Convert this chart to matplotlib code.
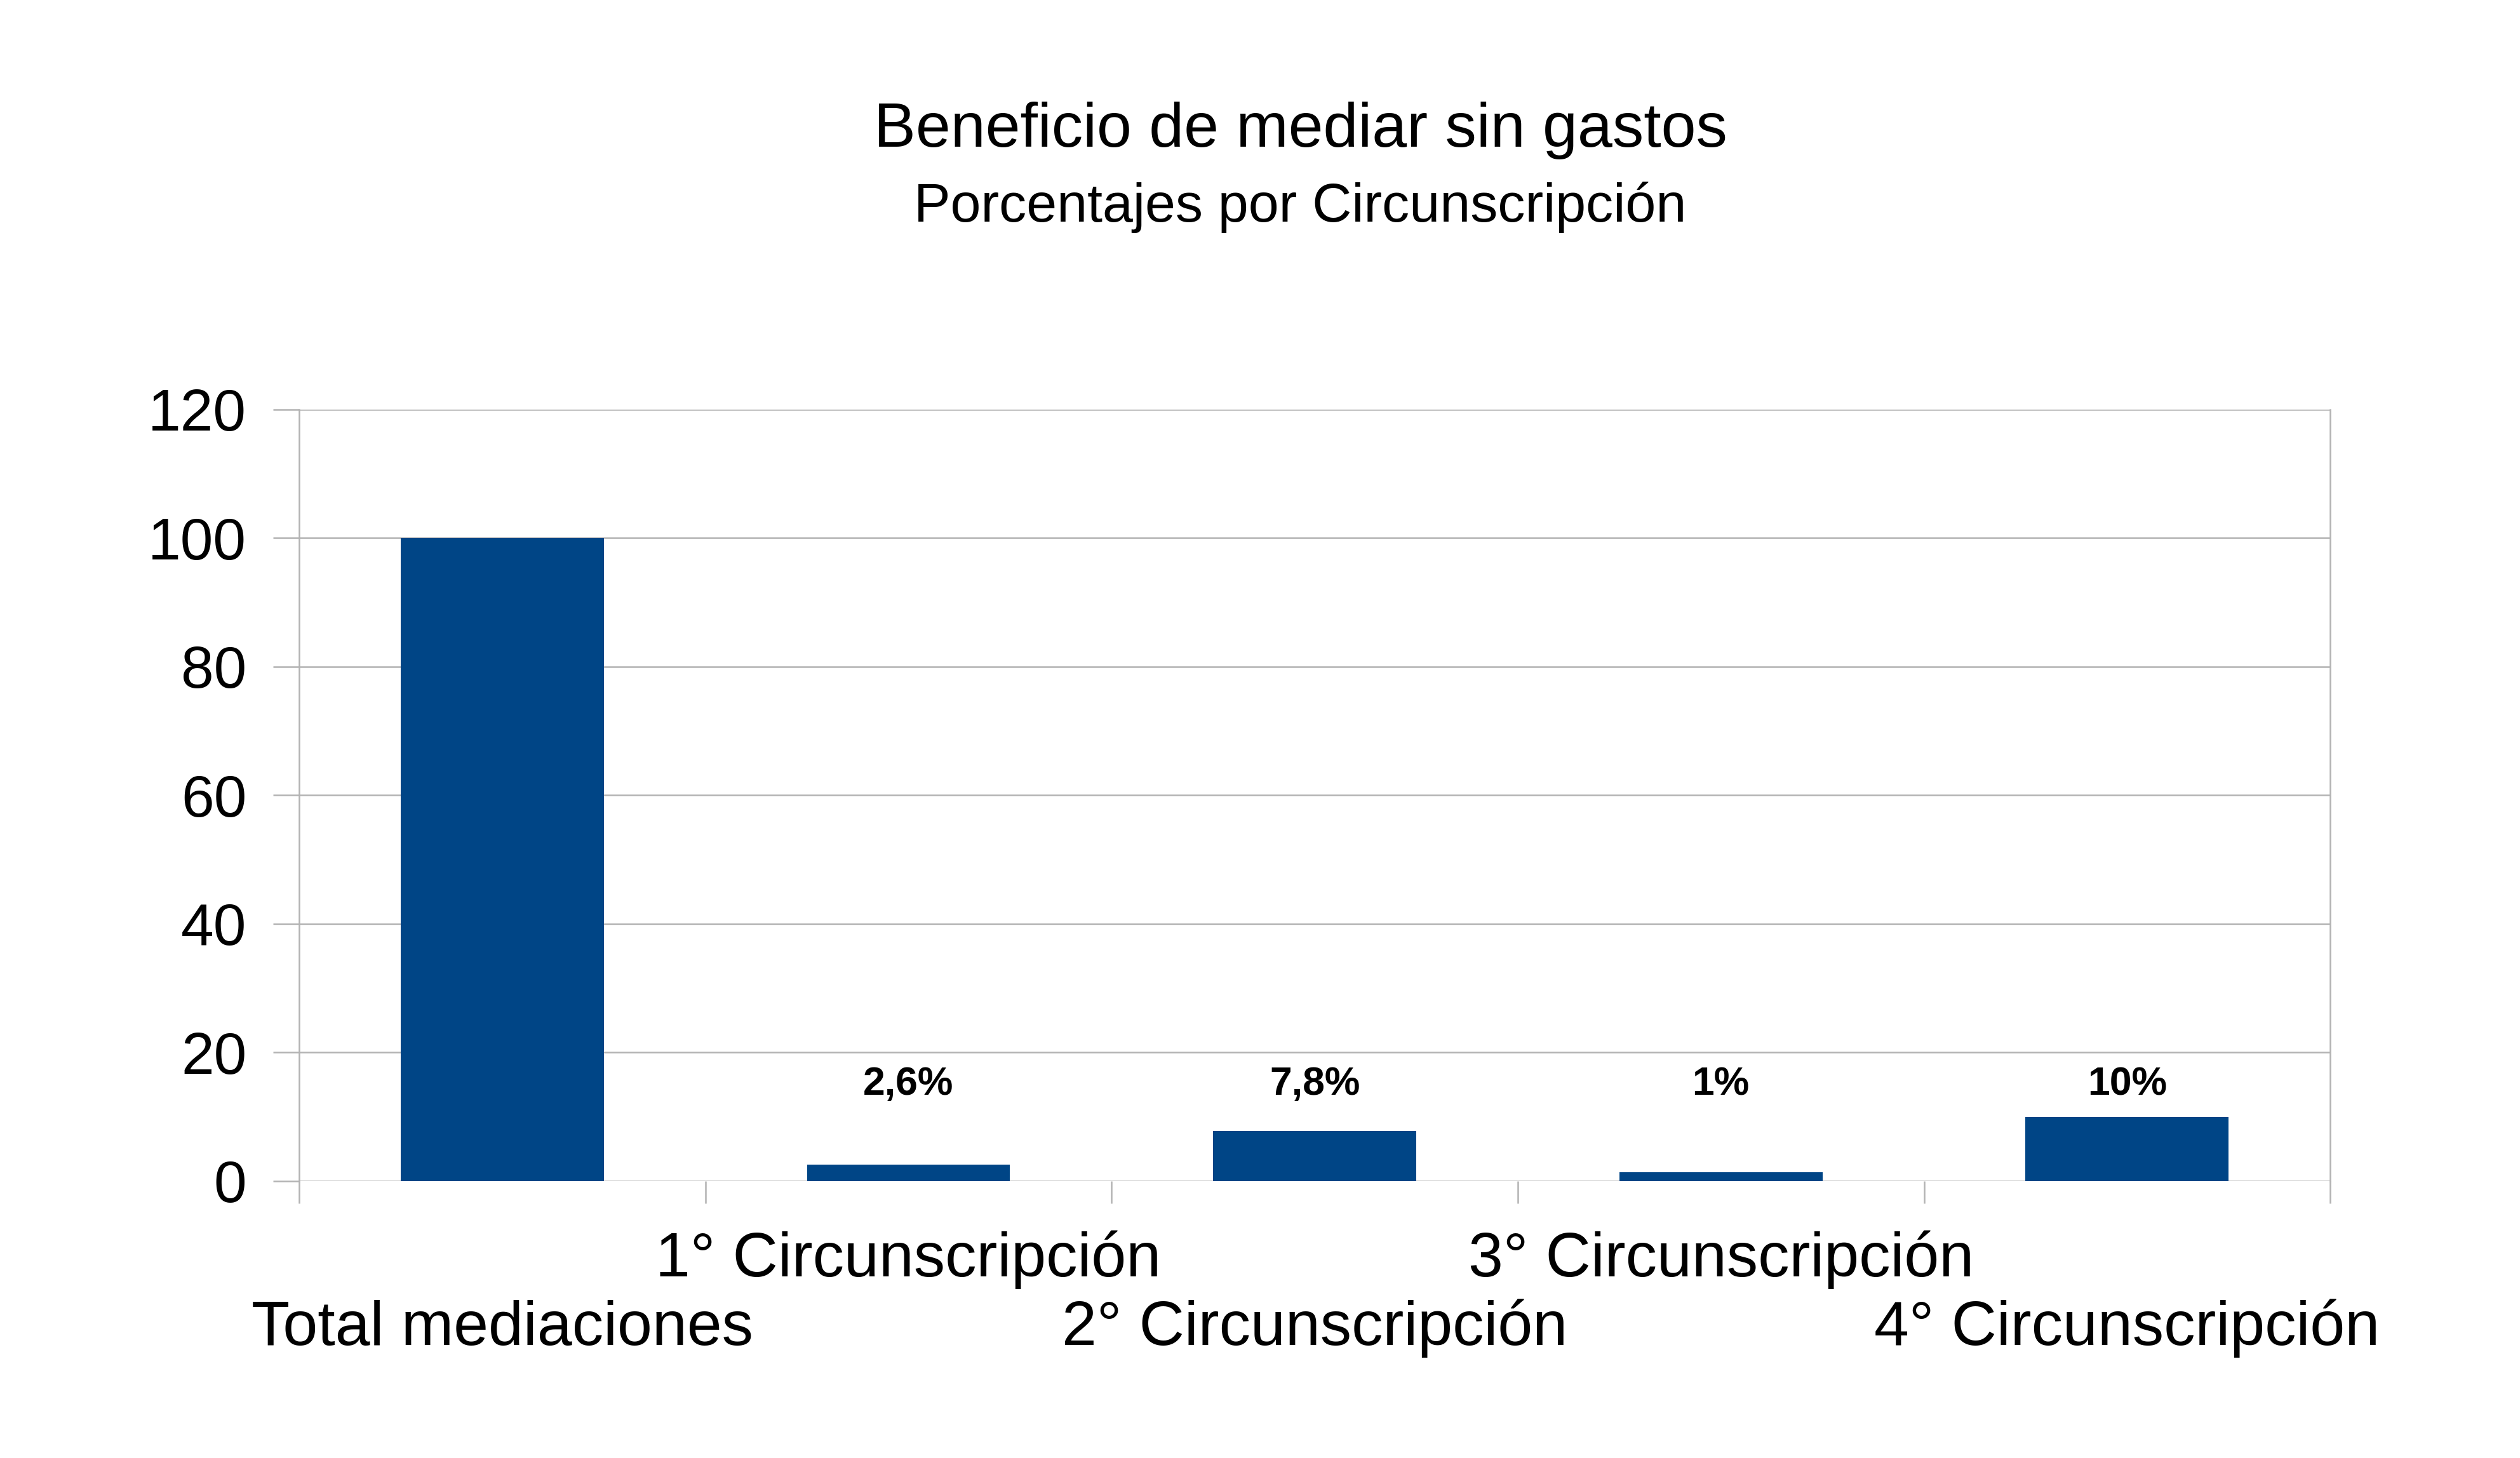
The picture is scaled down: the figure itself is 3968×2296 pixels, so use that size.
import matplotlib
matplotlib.use("Agg")
import matplotlib.pyplot as plt
import matplotlib.transforms as mtransforms

CATEGORIES = [
    "Total mediaciones",
    "1° Circunscripción",
    "2° Circunscripción",
    "3° Circunscripción",
    "4° Circunscripción",
]
VALUES = [100, 2.6, 7.8, 1.4, 10]
BAR_LABELS = ["", "2,6%", "7,8%", "1%", "10%"]
Y_TICKS = [0, 20, 40, 60, 80, 100, 120]

TITLE = "Beneficio de mediar sin gastos"
SUBTITLE = "Porcentajes por Circunscripción"

BAR_COLOR = "#004586"
GRID_COLOR = "#b3b3b3"


def main() -> int:
    plt.rcParams["font.family"] = ["Liberation Sans", "DejaVu Sans"]

    fig = plt.figure(figsize=(39.68, 22.96), dpi=100)
    ax = fig.add_axes([0.1187, 0.1899, 0.806, 0.5292])

    idx = list(range(len(CATEGORIES)))
    ax.bar(idx, VALUES, width=0.5, color=BAR_COLOR, zorder=3)

    ax.set_xlim(-0.5, len(CATEGORIES) - 0.5)
    ax.set_ylim(0, 120)
    ax.set_yticks(Y_TICKS)
    ax.set_yticklabels([str(t) for t in Y_TICKS])

    # category boundaries as ticks, no labels there
    ax.set_xticks([i - 0.5 for i in range(len(CATEGORIES) + 1)])
    ax.set_xticklabels([])

    ax.set_axisbelow(True)
    ax.yaxis.grid(True, color=GRID_COLOR, linewidth=1.8)
    ax.tick_params(axis="y", length=29.5, width=1.8, color=GRID_COLOR,
                   pad=30, labelsize=67, labelcolor="black")
    ax.tick_params(axis="x", length=25, width=1.8, color=GRID_COLOR)

    for side in ["top", "bottom"]:
        ax.spines[side].set_visible(False)
    for side in ["left", "right"]:
        ax.spines[side].set_color(GRID_COLOR)
        ax.spines[side].set_linewidth(1.8)

    # value labels, all on the same height
    for i, lab in enumerate(BAR_LABELS):
        if lab:
            ax.text(i, 13.4, lab, ha="center", va="baseline", fontsize=45,
                    fontweight="bold", fontstretch="condensed")

    # staggered category labels
    trans = mtransforms.blended_transform_factory(ax.transData, fig.transFigure)
    for i, cat in enumerate(CATEGORIES):
        y = 0.1246 if i % 2 == 1 else 0.0775
        ax.text(i, y, cat, transform=trans, ha="center", va="baseline",
                fontsize=71)

    fig.text(0.516, 0.8994, TITLE, ha="center", va="baseline", fontsize=71)
    fig.text(0.516, 0.848, SUBTITLE, ha="center", va="baseline", fontsize=62)

    fig.savefig("out.png", dpi=100, facecolor="white")
    plt.close(fig)
    return 0


if __name__ == "__main__":
    raise SystemExit(main())
